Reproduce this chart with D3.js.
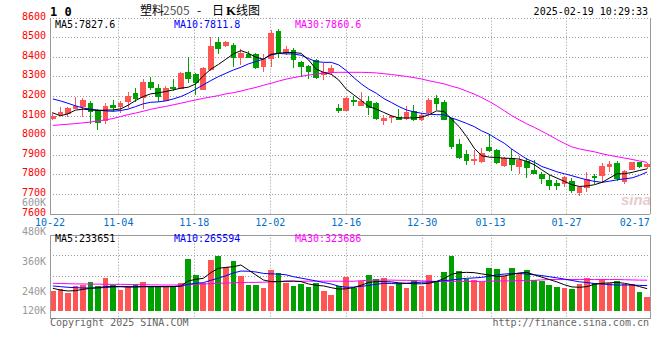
<!DOCTYPE html>
<html><head><meta charset="utf-8">
<script src="https://cdn.jsdelivr.net/npm/d3@7/dist/d3.min.js"></script>
<style>body{margin:0;background:#fff}svg{display:block}</style>
</head><body><svg id="c" width="660" height="360"></svg>
<script>
const dates = ["10-22","10-23","10-24","10-25","10-28","10-29","10-30","10-31","11-01","11-04","11-05","11-06","11-07","11-08","11-11","11-12","11-13","11-14","11-15","11-18","11-19","11-20","11-21","11-22","11-25","11-26","11-27","11-28","11-29","12-02","12-03","12-04","12-05","12-06","12-09","12-10","12-11","12-12","12-13","12-16","12-17","12-18","12-19","12-20","12-23","12-24","12-25","12-26","12-27","12-30","12-31","01-02","01-03","01-06","01-07","01-08","01-09","01-10","01-13","01-14","01-15","01-16","01-17","01-20","01-21","01-22","01-23","01-24","01-27","02-05","02-06","02-07","02-10","02-11","02-12","02-13","02-14","02-17","02-18","02-19"];
const open  = [8085,8103,8109,8136,8143,8165,8129,8071,8155,8143,8170,8216,8189,8270,8240,8177,8245,8236,8321,8314,8233,8333,8474,8457,8461,8396,8417,8415,8350,8387,8534,8421,8435,8372,8354,8384,8308,8321,8141,8126,8180,8150,8175,8165,8070,8087,8095,8082,8121,8075,8112,8192,8167,8087,7956,7905,7866,7862,7942,7925,7844,7883,7837,7866,7823,7803,7772,7755,7752,7764,7707,7730,7789,7789,7840,7858,7759,7823,7861,7838];
const high  = [8116,8143,8146,8194,8190,8177,8136,8165,8180,8175,8218,8240,8286,8298,8262,8252,8286,8321,8401,8320,8347,8500,8500,8480,8469,8440,8430,8418,8413,8537,8540,8455,8444,8381,8357,8388,8371,8359,8160,8194,8201,8221,8201,8168,8104,8104,8134,8150,8155,8112,8192,8206,8180,8090,7980,7925,7925,7937,8005,7930,7891,7930,7895,7886,7874,7810,7798,7772,7793,7781,7738,7811,7801,7857,7869,7866,7823,7861,7861,7859];
const low   = [8075,8100,8092,8133,8095,8058,8024,8058,8121,8112,8140,8168,8133,8230,8167,8173,8228,8235,8269,8204,8232,8330,8415,8450,8350,8359,8393,8338,8324,8350,8392,8409,8341,8299,8289,8289,8282,8308,8112,8122,8150,8150,8104,8075,8054,8061,8075,8078,8073,8070,8109,8130,8075,7930,7879,7849,7849,7857,7912,7854,7837,7815,7803,7781,7803,7752,7718,7721,7735,7704,7687,7709,7752,7755,7810,7767,7750,7820,7832,7825];
const close = [8099,8118,8139,8150,8180,8119,8061,8148,8139,8165,8199,8187,8270,8243,8197,8240,8235,8316,8287,8265,8342,8457,8440,8474,8393,8422,8396,8345,8387,8523,8418,8440,8384,8350,8325,8291,8325,8345,8126,8190,8167,8177,8141,8083,8088,8098,8078,8119,8075,8104,8180,8160,8078,7939,7886,7866,7879,7908,7917,7857,7883,7849,7874,7832,7803,7776,7738,7738,7786,7713,7733,7777,7779,7845,7854,7775,7818,7861,7835,7851];
const ma5  = [8114,8099,8109,8128,8133,8129,8126,8128,8129,8134,8153,8177,8197,8211,8216,8223,8231,8240,8245,8262,8303,8337,8361,8388,8415,8432,8418,8398,8388,8413,8418,8422,8422,8418,8384,8337,8321,8311,8282,8235,8206,8177,8146,8133,8116,8099,8088,8088,8088,8092,8104,8124,8121,8082,8044,7993,7934,7895,7888,7886,7883,7881,7878,7866,7849,7823,7798,7781,7764,7747,7738,7741,7747,7759,7781,7803,7803,7810,7820,7828];
const ma10 = [8185,8175,8163,8150,8139,8133,8128,8124,8122,8126,8133,8146,8160,8168,8170,8175,8185,8197,8214,8235,8257,8279,8299,8316,8333,8347,8364,8376,8389,8410,8418,8415,8415,8408,8391,8376,8372,8372,8359,8330,8294,8262,8235,8214,8187,8167,8146,8129,8119,8112,8107,8105,8104,8088,8075,8060,8044,8022,8005,7981,7959,7929,7903,7878,7862,7840,7827,7813,7803,7793,7782,7772,7764,7759,7765,7772,7777,7782,7795,7812];
const ma30 = [8050,8053,8056,8059,8063,8067,8073,8078,8085,8095,8105,8113,8122,8132,8140,8147,8155,8163,8172,8180,8188,8195,8202,8211,8217,8225,8235,8244,8255,8265,8276,8286,8294,8301,8307,8312,8317,8320,8321,8321,8321,8321,8320,8318,8314,8310,8305,8300,8294,8287,8278,8270,8262,8250,8240,8225,8210,8192,8172,8150,8125,8100,8078,8058,8040,8020,8000,7978,7958,7940,7930,7922,7915,7905,7897,7890,7883,7876,7868,7861];
const volume = [212000,226000,188000,262000,272000,304000,262000,346000,269000,219000,255000,283000,304000,262000,262000,262000,262000,293000,548000,378000,297000,537000,580000,463000,526000,368000,272000,272000,240000,431000,396000,293000,262000,283000,251000,293000,212000,166000,265000,357000,244000,311000,378000,336000,346000,265000,293000,240000,325000,265000,378000,300000,410000,583000,420000,336000,325000,304000,449000,441000,368000,452000,396000,431000,325000,314000,272000,251000,240000,229000,283000,346000,293000,325000,293000,314000,285000,285000,198000,145000];
const vma5  = [237000,219000,209000,212000,226000,237000,244000,255000,255000,255000,251000,251000,255000,255000,255000,255000,255000,262000,315000,332000,343000,403000,449000,459000,466000,484000,431000,378000,325000,308000,308000,314000,314000,308000,283000,269000,262000,244000,229000,232000,245000,270000,300000,308000,308000,305000,295000,290000,285000,285000,290000,310000,340000,385000,403000,406000,403000,390000,378000,362000,368000,385000,400000,406000,380000,355000,330000,305000,275000,252000,248000,255000,280000,290000,295000,300000,290000,275000,255000,233651];
const vma10 = [262000,255000,248000,244000,241000,240000,241000,246000,252000,255000,255000,255000,255000,255000,255000,255000,256000,258000,280000,290000,297000,322000,345000,370000,400000,420000,418000,410000,395000,390000,388000,380000,360000,345000,330000,315000,298000,283000,260000,248000,250000,258000,268000,280000,290000,288000,284000,290000,298000,302000,304000,310000,318000,325000,335000,343000,347000,353000,365000,380000,388000,394000,394000,388000,380000,372000,360000,348000,335000,320000,306000,298000,288000,282000,276000,272000,272000,272000,268000,265594];
const vma30 = [290000,288000,286000,284000,283000,282000,281000,280000,279000,279000,278000,276000,275000,274000,273000,272000,272000,273000,276000,280000,283000,286000,290000,293000,296000,298000,300000,300000,302000,305000,307000,309000,311000,312000,313000,313000,313000,313000,312000,312000,312000,318000,322000,324000,324000,324000,322000,322000,320000,316000,314000,310000,310000,310000,310000,310000,310000,310000,312000,314000,315000,316000,318000,320000,322000,326000,330000,330000,330000,330000,330000,330000,330000,330000,330000,330000,328000,326000,324000,323686];
const priceTicks = [8600,8500,8400,8300,8200,8100,8000,7900,7800,7700,7600];
const volTicks = [600000,480000,360000,240000,120000];
const volTickLabels = ["600K","480K","360K","240K","120K"];
const gridDates = ["11-04","11-18","12-02","12-16","12-30","01-13","01-27"];
const labelDates = ["10-22","11-04","11-18","12-02","12-16","12-30","01-13","01-27","02-17"];
const legendPrice = ["MA5:7827.6","MA10:7811.8","MA30:7860.6"];
const legendVol = ["MA5:233651","MA10:265594","MA30:323686"];
const titleParts = ["塑料","2505","-","日","K","线图"];
const stamp = "2025-02-19 10:29:33";

const mono = "'DejaVu Sans Mono', monospace";
const RED = "#ff5555", GREEN = "#00a000";
const svg = d3.select("#c");
svg.append("rect").attr("width",660).attr("height",360).attr("fill","#fff");

const L = 50, R = 649.5;
const mTop = 17.7, mBot = 213.5;
const vTop = 234.7, vBot = 317.7, vBase = 310.7;

const xp = d3.scalePoint().domain(dates).range([L, 650]);
const xb = d3.scaleBand().domain(dates).range([L, 650]).paddingInner(0.24).paddingOuter(0);
const bw = xb.bandwidth();
const cx = d => xb(d) + bw/2;
const y = d3.scaleLinear().domain([7600, 8600]).range([mBot, mTop]);
const vy = d3.scaleLinear().domain([0, 805000]).range([vBase, vTop]);
const vLab = d3.scaleLinear().domain([240000, 480000]).range([294, 234.5]);
const px = v => Math.round(v) + 0.5;

const gridC = "#999", dash = "1,2";
const g = svg.append("g");
g.selectAll(".hg").data(priceTicks.filter(t => t > 7600)).join("line")
  .attr("x1", L).attr("x2", R).attr("y1", d => px(y(d))).attr("y2", d => px(y(d)))
  .attr("stroke", gridC).attr("stroke-dasharray", dash);
g.selectAll(".vg").data(gridDates).join("line")
  .attr("x1", d => px(xp(d))).attr("x2", d => px(xp(d))).attr("y1", mTop).attr("y2", mBot)
  .attr("stroke", gridC).attr("stroke-dasharray", dash);
[1,2].forEach(k => {
  const yy = px(vTop + (vBot - vTop) * k / 4);
  g.append("line").attr("x1", L).attr("x2", R).attr("y1", yy).attr("y2", yy)
   .attr("stroke", gridC).attr("stroke-dasharray", dash);
});
g.selectAll(".vg2").data(gridDates).join("line")
  .attr("x1", d => px(xp(d))).attr("x2", d => px(xp(d))).attr("y1", vTop).attr("y2", vBot)
  .attr("stroke", gridC).attr("stroke-dasharray", dash);

// watermark
svg.append("text").attr("x", 621).attr("y", 205).attr("font-family","'Liberation Sans', sans-serif")
  .attr("font-size", 15).attr("font-style","italic").attr("font-weight","bold")
  .attr("fill", "#e6cccc").text("sina");

const idx = d3.range(dates.length);
const cg = svg.append("g").attr("shape-rendering","crispEdges");
cg.selectAll(".wick").data(idx).join("line")
  .attr("x1", i => Math.floor(cx(dates[i])) + 0.5).attr("x2", i => Math.floor(cx(dates[i])) + 0.5)
  .attr("y1", i => y(high[i])).attr("y2", i => y(low[i]))
  .attr("stroke", i => close[i] >= open[i] ? RED : GREEN);
cg.selectAll(".body").data(idx).join("rect")
  .attr("x", i => xb(dates[i])).attr("width", bw)
  .attr("y", i => y(Math.max(open[i], close[i])))
  .attr("height", i => Math.max(1, Math.abs(y(open[i]) - y(close[i]))))
  .attr("fill", i => close[i] >= open[i] ? RED : GREEN);
cg.selectAll(".vb").data(idx).join("rect")
  .attr("x", i => xb(dates[i])).attr("width", bw)
  .attr("y", i => vy(volume[i])).attr("height", i => vBase - vy(volume[i]))
  .attr("fill", i => close[i] >= open[i] ? RED : GREEN);

const lineP = d3.line().x((v, i) => cx(dates[i])).y(v => y(v));
const lineV = d3.line().x((v, i) => cx(dates[i])).y(v => vy(v));
const maCols = ["#000000", "#0000ff", "#ff00ff"];
[ma30, ma10, ma5].forEach((s, k) => {
  svg.append("path").attr("d", lineP(s)).attr("fill","none").attr("stroke", maCols[2-k]).attr("stroke-width", 1);
});
[vma30, vma10, vma5].forEach((s, k) => {
  svg.append("path").attr("d", lineV(s)).attr("fill","none").attr("stroke", maCols[2-k]).attr("stroke-width", 1);
});

const bg = svg.append("g").attr("stroke", "#999").attr("shape-rendering","crispEdges");
bg.append("line").attr("x1", px(L)).attr("x2", px(L)).attr("y1", mTop).attr("y2", mBot);
bg.append("line").attr("x1", px(R)).attr("x2", px(R)).attr("y1", mTop).attr("y2", mBot);
bg.append("line").attr("x1", L).attr("x2", R).attr("y1", px(mBot)).attr("y2", px(mBot));
bg.append("rect").attr("x", px(L)).attr("y", px(vTop)).attr("width", Math.round(R - L)).attr("height", Math.round(vBot - vTop)).attr("fill","none");

svg.selectAll(".pl").data(priceTicks).join("text")
  .attr("x", 46).attr("y", d => y(d) + 2).attr("text-anchor","end")
  .attr("font-family", mono).attr("font-size", 10).attr("fill", "#ff0000").text(d => d);
svg.selectAll(".vl").data(volTicks).join("text")
  .attr("x", 46).attr("y", d => Math.min(vLab(d) + 0.8, 314)).attr("text-anchor","end")
  .attr("font-family", mono).attr("font-size", 10).attr("fill", "#999").text((d, i) => volTickLabels[i]);
svg.selectAll(".dl").data(labelDates).join("text")
  .attr("x", d => xp(d)).attr("y", 225.5).attr("text-anchor","middle")
  .attr("font-family", mono).attr("font-size", 10).attr("fill", "#0070c8").text(d => d);

const legX = [55, 174, 295];
legendPrice.forEach((t, k) => svg.append("text").attr("x", legX[k]).attr("y", 27.5)
  .attr("font-family", mono).attr("font-size", 10).attr("fill", maCols[k]).text(t));
legendVol.forEach((t, k) => svg.append("text").attr("x", legX[k]).attr("y", 241.5)
  .attr("font-family", mono).attr("font-size", 10).attr("fill", maCols[k]).text(t));

svg.append("text").attr("x", 50).attr("y", 15.5).attr("font-family", mono).attr("font-size", 12)
  .attr("font-weight","bold").attr("fill","#000").text("1 0");
const titleX = [140, 163, 197, 212, 226, 236];
const tt = svg.append("text").attr("y", 15).attr("font-family","'Noto Sans CJK SC', sans-serif")
  .attr("font-size", 12).attr("fill","#000");
titleParts.forEach((t, k) => {
  const s = tt.append("tspan").attr("x", titleX[k]).text(t);
  if (k === 1) s.attr("fill", "#555");
  if (k === 4) s.attr("font-family","'Liberation Serif', serif").attr("font-weight","bold").attr("font-size", 13);
});
svg.append("text").attr("x", 648).attr("y", 15).attr("text-anchor","end")
  .attr("font-family", mono).attr("font-size", 10).attr("fill","#000").text(stamp);

svg.append("text").attr("x", 50).attr("y", 325.5).attr("font-family", mono).attr("font-size", 10)
  .attr("fill","#666").text("Copyright 2025 SINA.COM");
svg.append("text").attr("x", 649).attr("y", 325.5).attr("text-anchor","end").attr("font-family", mono)
  .attr("font-size", 10).attr("fill","#666").text("http://finance.sina.com.cn");
</script></body></html>
